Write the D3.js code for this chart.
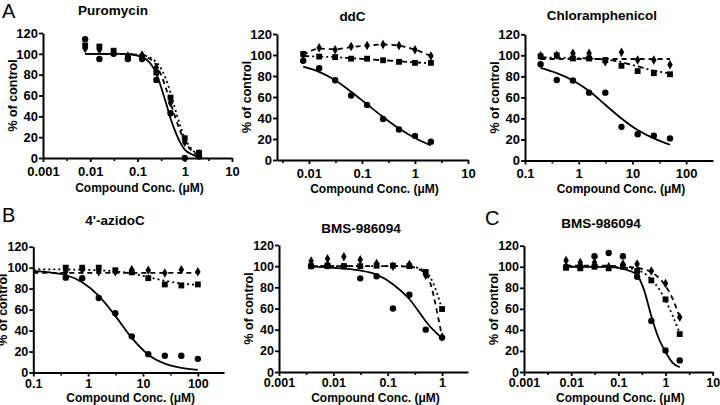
<!DOCTYPE html>
<html><head><meta charset="utf-8">
<script src="https://cdn.jsdelivr.net/npm/d3@7"></script>
<style>
body{margin:0;background:#fff}
svg{display:block}
text{font-family:"Liberation Sans",Arial,Helvetica,sans-serif}
</style>
</head><body>
<svg id="chart" width="720" height="405"></svg>
<script>
// ---------------- data ----------------
// Panel A1: Puromycin
const puroConc = [0.0078,0.0156,0.03125,0.0625,0.125,0.25,0.5,1,2];
const puroCircle = [114,95,100,95,95,75,43,0,1.5];
const puroSquare = [108,107,103,97,97,82,58,19,5];
const puroDiamond = [105,104,101,98,99,87,53,15,4];
const puroFitX = [0.0078,0.05,0.1,0.15,0.2,0.25,0.3,0.4,0.5,0.6,0.8,1,1.5,2];
const puroFitCircle = [100,100,98.2,95,89,81,71,53,38,28,15,8,3,1.3];
const puroFitSquare = [100,100,99.3,98,95.6,92,87.4,75.7,62.5,50,31,19.3,7.1,3.3];
const puroFitDiamond = [100,100,99,97,94,89,82,67,53,42,26,16,6,2.5];
const puroTicks = [0.001,0.01,0.1,1,10];
const puroLabels = ["0.001","0.01","0.1","1","10"];

// Panel A2: ddC
const ddcConc = [0.0078,0.0156,0.03125,0.0625,0.125,0.25,0.5,1,2];
const ddcCircle = [94.5,87.5,76,61.5,52.5,39,29,23,17.5];
const ddcSquare = [101,98.5,98,96.5,96.5,95,93.5,92.5,92.5];
const ddcDiamond = [100,107,105,108,109,110,109,105,99];
const ddcFitX = [0.0078,0.0156,0.03125,0.0625,0.125,0.25,0.5,1,2];
const ddcFitCircle = [89,84,76,65,53,41,30,21,14];
const ddcFitSquare = [99,98.5,98,97,96,95,94,93,92];
const ddcFitDiamond = [100,106,105.5,107.5,109,110,109,105,99];
const ddcTicks = [0.01,0.1,1,10];
const ddcLabels = ["0.01","0.1","1","10"];

// Panel A3: Chloramphenicol
const chlConc = [0.195,0.39,0.78,1.56,3.125,6.25,12.5,25,50];
const chlCircle = [91.5,76.5,76,64.5,64.5,32,25,23.5,21];
const chlSquare = [99,100,97,97,95.5,90,85,83,82];
const chlDiamond = [99.5,100,102,102,94,103,95.5,95.5,91];
const chlFitX = [0.195,0.39,0.78,1.56,3.125,6.25,12.5,25,50];
const chlFitCircle = [88,83,76,66,53,40,29,21,15];
const chlFitSquare = [98,97.8,97.5,97,96,93.5,89.5,85.5,83];
const chlFitDiamond = [96.5,96.5,96.5,96.5,96.5,96.5,96.5,96.5,96.5];
const chlTicks = [0.1,1,10,100];
const chlLabels = ["0.1","1","10","100"];

// Panel B1: 4'-azidoC
const aziConc = [0.39,0.78,1.56,3.125,6.25,12.5,25,50,100];
const aziCircle = [90.5,90,71,56.5,34.5,17.5,16,16,13];
const aziSquare = [100,100,100,97.5,95.5,90,84,83,84];
const aziDiamond = [96,98,96,96,98,97.5,95,98,96];
const aziFitX = [0.1,0.2,0.39,0.78,1.56,3.125,6.25,12.5,25,50,100];
const aziFitCircle = [97,95.5,93,86,73,54,33,17,8.5,4.5,2.5];
const aziFitSquare = [98.5,98.4,98.3,98,97.5,96.5,94.5,91,87.5,85,83.5];
const aziFitDiamond = [95,95,95,95,95,95,95,95,95,95,95];
const aziTicks = [0.1,1,10,100];
const aziLabels = ["0.1","1","10","100"];

// Panel B2: BMS-986094
const bmsConc = [0.0039,0.0078,0.0156,0.03125,0.0625,0.125,0.25,0.5,1];
const bmsCircle = [100,101,100,88.5,90.5,60,73,40,32.5];
const bmsSquare = [100,100,100,100,100.5,100.5,100,94.5,59.5];
const bmsDiamond = [105,107,109,106,102.5,100,101.5,91.5,33];
const bmsFitX = [0.0039,0.01,0.03,0.0625,0.125,0.25,0.5,0.6,0.7,0.8,0.9,1];
const bmsFitCircle = [99.5,98.5,96,92,83,69,48,43,39.5,36.5,34,32];
const bmsFitSquare = [100,100,100,100,100,99.8,95,90,83,75,67,59];
const bmsFitDiamond = [100,100,100,100,100,99.5,93,85,72,58,45,33];
const bmsTicks = [0.001,0.01,0.1,1];
const bmsLabels = ["0.001","0.01","0.1","1"];

// Panel C: BMS-986094
const bmsCConc = [0.0078,0.0156,0.03125,0.0625,0.125,0.25,0.5,1,2];
const bmsCCircle = [100,100,110,113,110,90.5,48.5,20.5,11];
const bmsCSquare = [99,98.5,100,98.5,100,96,87,69,36];
const bmsCDiamond = [106,104,104,100,102.5,102.5,96,84,52];
const bmsCFitX = [0.0078,0.05,0.1,0.15,0.2,0.25,0.35,0.5,0.7,1,1.4,2];
const bmsCFitCircle = [100,99.8,99,97,95,92,78,53,33,19,9,4.5];
const bmsCFitSquare = [100,100,99.5,99,98,97,94,88,80,68,54,37];
const bmsCFitDiamond = [101,101,100.5,100,99.5,99,97.5,95,90,82,70,52];
const bmsCTicks = [0.001,0.01,0.1,1,10];
const bmsCLabels = ["0.001","0.01","0.1","1","10"];

const yTicks = [0,20,40,60,80,100,120];
const xTitle = "Compound Conc. (\u03BCM)";
const yTitle = "% of control";

// ---------------- layout ----------------
const panels = [
  {title:"Puromycin", tx:113, ty:15, dom:[0.001,10], xr:[43,232], yr:[158,33], xtY:192, tf:13, tp:4.5,
   ticks:puroTicks, labels:puroLabels, conc:puroConc, c:puroCircle, s:puroSquare, d:puroDiamond,
   fx:puroFitX, fc:puroFitCircle, fs:puroFitSquare, fd:puroFitDiamond, sDash:"2,3"},
  {title:"ddC", tx:352.5, ty:21, dom:[0.0025,10], xr:[277,468], yr:[160,34], xtY:193, tf:13, tp:4.5,
   ticks:ddcTicks, labels:ddcLabels, conc:ddcConc, c:ddcCircle, s:ddcSquare, d:ddcDiamond,
   fx:ddcFitX, fc:ddcFitCircle, fs:ddcFitSquare, fd:ddcFitDiamond, sDash:"6,3,2,3"},
  {title:"Chloramphenicol", tx:602, ty:20, dom:[0.1,316], xr:[525,713], yr:[160.5,34.3], xtY:193, tf:13, tp:4.5,
   ticks:chlTicks, labels:chlLabels, conc:chlConc, c:chlCircle, s:chlSquare, d:chlDiamond,
   fx:chlFitX, fc:chlFitCircle, fs:chlFitSquare, fd:chlFitDiamond, sDash:"6,3,2,3"},
  {title:"4'-azidoC", tx:115, ty:225, dom:[0.1,300], xr:[33.3,224], yr:[372.5,246.7], xtY:401.5, tf:12.5, tp:2.5,
   ticks:aziTicks, labels:aziLabels, conc:aziConc, c:aziCircle, s:aziSquare, d:aziDiamond,
   fx:aziFitX, fc:aziFitCircle, fs:aziFitSquare, fd:aziFitDiamond, sDash:"2,3"},
  {title:"BMS-986094", tx:361, ty:233, dom:[0.001,3], xr:[279,468], yr:[372,245], xtY:401.5, tf:12.5, tp:2.5,
   ticks:bmsTicks, labels:bmsLabels, conc:bmsConc, c:bmsCircle, s:bmsSquare, d:bmsDiamond,
   fx:bmsFitX, fc:bmsFitCircle, fs:bmsFitSquare, fd:bmsFitDiamond, sDash:"2,3"},
  {title:"BMS-986094", tx:601, ty:228, dom:[0.001,10], xr:[524,712.7], yr:[372,245.7], xtY:401.5, tf:12.5, tp:2.5,
   ticks:bmsCTicks, labels:bmsCLabels, conc:bmsCConc, c:bmsCCircle, s:bmsCSquare, d:bmsCDiamond,
   fx:bmsCFitX, fc:bmsCFitCircle, fs:bmsCFitSquare, fd:bmsCFitDiamond, sDash:"2,3"}
];
const letters = [{t:"A",x:2,y:18},{t:"B",x:2,y:222},{t:"C",x:485,y:225}];

const svg = d3.select("#chart");

letters.forEach(l => svg.append("text").attr("x",l.x).attr("y",l.y)
  .attr("font-size",20).attr("fill","#000").text(l.t));

panels.forEach(p => {
  const x = d3.scaleLog().domain(p.dom).range(p.xr);
  const y = d3.scaleLinear().domain([0,120]).range(p.yr);
  const g = svg.append("g");

  // minor ticks at half-decades
  const lo = Math.floor(Math.log10(p.dom[0])), hi = Math.ceil(Math.log10(p.dom[1]));
  const minor = d3.range(lo, hi).map(e => Math.pow(10, e + 0.5))
    .filter(v => v > p.dom[0] && v < p.dom[1]);
  g.append("g").attr("transform",`translate(0,${p.yr[0]})`)
    .call(d3.axisBottom(x).tickValues(minor).tickFormat("").tickSize(3).tickSizeOuter(0))
    .call(a => a.select(".domain").remove())
    .call(a => a.selectAll("line").attr("stroke-width",1.6));

  const xa = g.append("g").attr("transform",`translate(0,${p.yr[0]})`)
    .call(d3.axisBottom(x).tickValues(p.ticks).tickFormat((d,i)=>p.labels[i])
      .tickSize(4).tickSizeOuter(0).tickPadding(p.tp));
  const ya = g.append("g").attr("transform",`translate(${p.xr[0]},0)`)
    .call(d3.axisLeft(y).tickValues(yTicks).tickSize(4).tickSizeOuter(0).tickPadding(1));
  [xa,ya].forEach(a => {
    a.select(".domain").attr("stroke-width",2);
    a.selectAll("line").attr("stroke-width",1.8);
    a.selectAll("text").attr("font-size",p.tf).attr("font-weight","bold")
      .attr("font-family",'"Liberation Sans",Arial,sans-serif').attr("fill","#000");
  });

  // titles
  g.append("text").attr("x",p.tx).attr("y",p.ty).attr("text-anchor","middle")
    .attr("font-size",13.5).attr("font-weight","bold").text(p.title);
  g.append("text").attr("x",(p.xr[0]+p.xr[1])/2+2).attr("y",p.xtY).attr("text-anchor","middle")
    .attr("font-size",12).attr("font-weight","bold").text(xTitle);
  g.append("text").attr("transform",`translate(${p.xr[0]-26},${(p.yr[0]+p.yr[1])/2}) rotate(-90)`)
    .attr("text-anchor","middle").attr("font-size",12.5).attr("font-weight","bold").text(yTitle);

  // fitted curves
  const line = d3.line().x(d=>x(d[0])).y(d=>y(d[1])).curve(d3.curveMonotoneX);
  const curves = [
    {v:p.fc, dash:null},
    {v:p.fs, dash:p.sDash},
    {v:p.fd, dash:"5,4"}
  ];
  curves.forEach(c => {
    g.append("path").attr("d", line(p.fx.map((xv,i)=>[xv,c.v[i]])))
      .attr("fill","none").attr("stroke","#000").attr("stroke-width",1.8)
      .attr("stroke-dasharray", c.dash);
  });

  // markers
  const sq = d3.symbol().type(d3.symbolSquare).size(34);
  const di = d3.symbol().type(d3.symbolDiamond).size(26);
  p.conc.forEach((cv,i) => {
    g.append("path").attr("d",sq()).attr("transform",`translate(${x(cv)},${y(p.s[i])})`).attr("fill","#000");
    g.append("path").attr("d",di()).attr("transform",`translate(${x(cv)},${y(p.d[i])})`).attr("fill","#000");
    g.append("circle").attr("cx",x(cv)).attr("cy",y(p.c[i])).attr("r",3.2).attr("fill","#000");
  });
});
</script>
</body></html>
